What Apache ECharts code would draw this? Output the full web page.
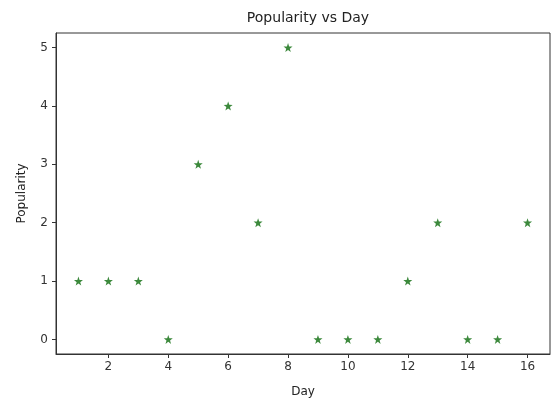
<!DOCTYPE html>
<html><head><meta charset="utf-8">
<script src="https://cdn.jsdelivr.net/npm/echarts@6/dist/echarts.min.js"></script>
<style>html,body{margin:0;padding:0;background:#fff}#c{width:553px;height:405px}</style>
</head><body><div id="c"></div>
<script>
const days = [1,2,3,4,5,6,7,8,9,10,11,12,13,14,15,16];
const popularity = [1,1,1,0,3,4,2,5,0,0,0,1,2,0,0,2];
const xTicks = [2,4,6,8,10,12,14,16];
const yTicks = [0,1,2,3,4,5];

const star = 'path://M0,-10 L2.35,-3.24 L9.51,-3.09 L3.8,1.24 L5.88,8.09 L0,4 L-5.88,8.09 L-3.8,1.24 L-9.51,-3.09 L-2.35,-3.24 Z';
const font = 'DejaVu Sans';
const chart = echarts.init(document.getElementById('c'), null, {renderer:'canvas'});
chart.setOption({
  animation:false,
  title:{text:'Popularity vs Day', left:303, top:6, textAlign:'center',
    textStyle:{fontFamily:font, fontSize:14, fontWeight:'normal', color:'#222'}},
  grid:{left:56, right:3, top:33, bottom:51, show:true, borderColor:'#333', borderWidth:1},
  xAxis:{type:'value', min:0.25, max:16.75, name:'Day', nameLocation:'middle', nameGap:32,
    nameTextStyle:{fontFamily:font, fontSize:12, color:'#222'},
    axisLine:{show:true, onZero:false, lineStyle:{color:'#333'}},
    axisTick:{show:true, length:4, customValues:xTicks, lineStyle:{color:'#333'}},
    axisLabel:{customValues:xTicks, fontFamily:font, fontSize:12, color:'#333', margin:7},
    splitLine:{show:false}},
  yAxis:{type:'value', min:-0.25, max:5.25, name:'Popularity', nameLocation:'middle', nameGap:28,
    nameTextStyle:{fontFamily:font, fontSize:12, color:'#222'},
    axisLine:{show:true, onZero:false, lineStyle:{color:'#333'}},
    axisTick:{show:true, length:4, customValues:yTicks, lineStyle:{color:'#333'}},
    axisLabel:{customValues:yTicks, fontFamily:font, fontSize:12, color:'#333', margin:8},
    splitLine:{show:false}},
  series:[{type:'scatter', data:days.map((d,i)=>[d,popularity[i]]),
    symbol:star, symbolSize:9, itemStyle:{color:'#0b6b0b'}}]
});
</script></body></html>
